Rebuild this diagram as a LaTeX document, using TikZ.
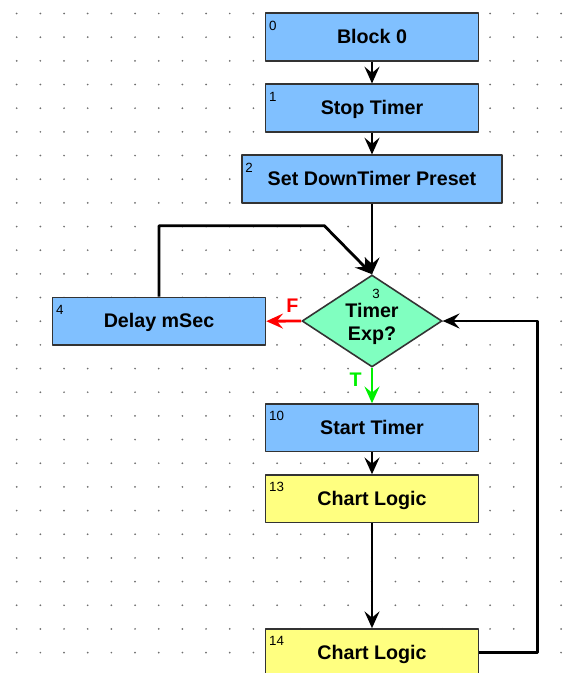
\documentclass[tikz,border=0pt]{standalone}
\usepackage{fontspec}
\setmainfont{Liberation Sans}
\usetikzlibrary{shapes.geometric,arrows.meta}
\definecolor{blkblue}{RGB}{128,192,255}
\definecolor{blkyellow}{RGB}{255,255,128}
\definecolor{decgreen}{RGB}{128,255,192}
\definecolor{tgreen}{RGB}{0,240,0}
\definecolor{dotgray}{RGB}{110,110,110}
\begin{document}
\begin{tikzpicture}[x=0.02cm,y=-0.02cm,line join=round,
  >={Stealth[length=9.5pt,width=8.5pt,inset=3.5pt]},
  lbl/.style={font=\fontsize{11.2}{13.2}\selectfont\bfseries},
  blk/.style={lbl,draw=black!80,line width=0.9pt,fill=blkblue,minimum width=4.26cm,
    minimum height=0.95cm,inner sep=0pt,text height=2.7mm,text depth=0pt},
  chart/.style={blk,fill=blkyellow},
  dec/.style={diamond,draw=black!80,line width=0.9pt,fill=decgreen,aspect=1.52,
    minimum width=2.8cm,minimum height=1.84cm,inner sep=0pt},
  num/.style={font=\fontsize{7.6}{8}\selectfont,inner sep=0pt,anchor=north west,
    xshift=0.08cm,yshift=-0.16cm},
  flow/.style={line width=1.6pt,->}]
\useasboundingbox (0,0) rectangle (577,673);
\clip (0,0) rectangle (577,673);
% dot grid
\foreach \i in {0,...,23}
  \foreach \j in {0,...,27}
    \fill[dotgray] ({16.7+23.67*\i},{13.5+23.67*\j}) circle[radius=0.55pt];
\path
(324.3,225.7) coordinate (fbk)
(537.3,321) coordinate (rgt)
;
\node[blk,label={[num]north west:0}] (b0) at (372,37) {Block 0};
\node[blk,label={[num]north west:1}] (b1) at (372,108) {Stop Timer};
\node[blk,minimum width=5.21cm,label={[num]north west:2}] (b2) at (372,179) {Set DownTimer Preset};
\node[dec,label={[num,anchor=north,xshift=0pt,yshift=-0.13cm]north:3}] (d3) at (372,321) {};
\node[lbl,align=center,inner sep=0pt] (d3txt) at (372,324) {Timer\\Exp?};
\node[blk,label={[num]north west:4}] (d4) at (159,321.2) {Delay mSec};
\node[blk,label={[num]north west:10}] (b10) at (372,427.8) {Start Timer};
\node[chart,label={[num]north west:13}] (b13) at (372,498.8) {Chart Logic};
\node[chart,label={[num]north west:14}] (b14) at (372,652.7) {Chart Logic};
\draw[flow] (b0) -- (b1);
\draw[flow] (b1) -- (b2);
\draw[flow] (b2) -- (d3);
\draw[flow] (d4.north) |- (fbk) -- (d3.north);
\draw[flow,red] (d3.west) -- node[lbl,pos=0.25,above,yshift=0.02cm]{F} (d4.east);
\draw[flow,tgreen] (d3.south) -- node[lbl,pos=0.35,left,xshift=-0.06cm]{T} (b10.north);
\draw[flow] (b10) -- (b13);
\draw[flow] (b13) -- (b14);
\draw[flow] (b14.east) -| (rgt) -- (d3.east);
\end{tikzpicture}
\end{document}
